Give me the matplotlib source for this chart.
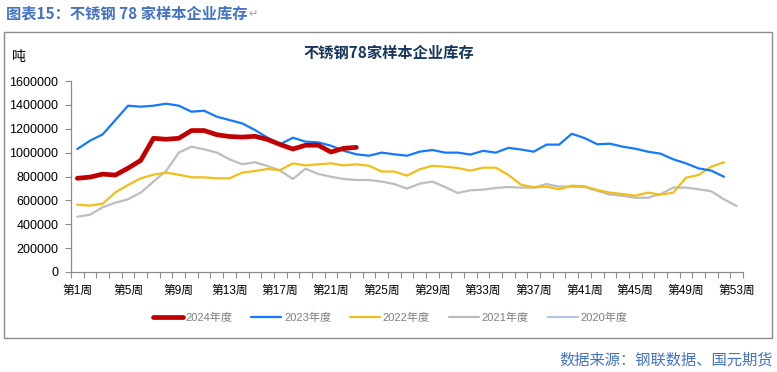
import numpy as np
import matplotlib
matplotlib.use('Agg')
import matplotlib.pyplot as plt
from matplotlib.patches import Rectangle

plt.rcParams['font.family'] = ['Liberation Sans', 'Noto Sans CJK SC', 'DejaVu Sans']

weeks = np.arange(1, 54)
tickWeeks = list(range(1, 54, 4))
tickLabels = [f'第{w}周' for w in tickWeeks]

inv2024 = [785000, 795000, 820000, 812000, 870000, 935000, 1120000, 1112000, 1120000,
           1185000, 1185000, 1150000, 1135000, 1130000, 1137000, 1110000, 1068000,
           1030000, 1062000, 1062000, 1005000, 1036000, 1044000]
inv2023 = [1030000, 1100000, 1153000, 1273000, 1393000, 1385000, 1393000, 1410000,
           1393000, 1343000, 1351000, 1301000, 1273000, 1245000, 1190000, 1125000,
           1070000, 1125000, 1092000, 1086000, 1058000, 1016000, 986000, 974000,
           1000000, 986000, 974000, 1008000, 1022000, 1000000, 1000000, 984000,
           1015000, 1000000, 1040000, 1026000, 1008000, 1067000, 1067000, 1158000,
           1122000, 1070000, 1075000, 1050000, 1033000, 1008000, 991000, 944000,
           910000, 868000, 849000, 798000]
inv2022 = [564000, 556000, 572000, 667000, 729000, 785000, 815000, 832000, 815000,
           793000, 793000, 785000, 785000, 832000, 846000, 863000, 854000, 910000,
           893000, 902000, 910000, 893000, 902000, 890000, 842000, 842000, 807000,
           860000, 890000, 882000, 871000, 849000, 874000, 874000, 813000, 731000,
           709000, 715000, 693000, 723000, 718000, 687000, 665000, 653000, 639000,
           665000, 648000, 665000, 790000, 813000, 882000, 919000]
inv2021 = [463000, 480000, 542000, 581000, 609000, 665000, 757000, 846000, 1000000,
           1050000, 1028000, 1000000, 944000, 903000, 919000, 888000, 849000, 779000,
           865000, 821000, 798000, 779000, 771000, 771000, 757000, 737000, 698000,
           740000, 757000, 712000, 662000, 684000, 690000, 704000, 712000, 707000,
           707000, 737000, 715000, 715000, 712000, 681000, 648000, 639000, 622000,
           622000, 653000, 707000, 707000, 693000, 676000, 609000, 553000]
inv2020 = []

series = [
    ('2024年度', inv2024, '#C00000', 3.4),
    ('2023年度', inv2023, '#1479FF', 1.6),
    ('2022年度', inv2022, '#F2BE1A', 1.6),
    ('2021年度', inv2021, '#BDBDBD', 1.6),
    ('2020年度', inv2020, '#B4C7E7', 1.6),
]


def main():
    W, H = 777, 372
    fig = plt.figure(figsize=(W/100, H/100), dpi=100)

    # ---- outer frame
    fig.patches.append(Rectangle((4/W, 1-338/H), 768/W, 306/H, transform=fig.transFigure,
                                 fill=False, edgecolor='#8C8C8C', linewidth=1.0))

    ax = fig.add_axes([71/W, 1-272/H, 672/W, 191/H])
    for name, vals, color, lw in series[::-1]:
        ax.plot(weeks[:len(vals)], vals, color=color, linewidth=lw, label=name,
                solid_joinstyle='round', solid_capstyle='round')

    ax.set_xlim(0.5, 53.5)
    ax.set_ylim(0, 1600000)
    ax.set_yticks(np.arange(0, 1600001, 200000))
    ax.set_yticklabels([f'{int(v)}' for v in np.arange(0, 1600001, 200000)])
    ax.set_xticks(tickWeeks)
    ax.set_xticklabels(tickLabels)
    ax.set_xticks(np.arange(0.5, 54, 1), minor=True)
    ax.tick_params(axis='x', which='major', length=0, pad=9, labelsize=8.5, colors='black')
    ax.tick_params(axis='x', which='minor', length=4, width=0.8, color='#8C8C8C')
    ax.tick_params(axis='y', length=4, width=0.8, color='#8C8C8C', labelsize=9, pad=5)
    for s in ['top', 'right']:
        ax.spines[s].set_visible(False)
    for s in ['left', 'bottom']:
        ax.spines[s].set_color('#8C8C8C')
        ax.spines[s].set_linewidth(0.9)

    handles, labels = ax.get_legend_handles_labels()
    fig.legend(handles[::-1], labels[::-1], loc='center', bbox_to_anchor=(390/W, 1-318/H),
               ncol=5, frameon=False, fontsize=8, labelcolor='#7F7F7F',
               handlelength=2.7, handletextpad=0.25, columnspacing=1.7)

    # ---- texts
    cap = fig.text(6/W, 1-13/H, '图表15：不锈钢 78 家样本企业库存', fontsize=11,
                   fontweight='bold', color='#4472C4', va='center', ha='left',
                   family=['Noto Sans CJK SC'])
    fig.text(19/W, 1-57/H, '吨', fontsize=10, va='center', ha='center',
             family=['Noto Sans CJK SC'])
    fig.text(389/W, 1-53/H, '不锈钢78家样本企业库存', fontsize=11, fontweight='bold',
             color='#17375E', va='center', ha='center', family=['Noto Sans CJK SC'])
    fig.text(773/W, 1-360/H, '数据来源：钢联数据、国元期货', fontsize=11,
             color='#4472C4', va='center', ha='right', family=['Noto Sans CJK SC'])

    fig.canvas.draw()
    bb = cap.get_window_extent()
    fig.text(bb.x1/W + 1/W, 1-14/H, '↵', fontsize=8, color='#A0A0A0', va='center',
             ha='left', family=['DejaVu Sans'])

    fig.savefig('out.png', dpi=100)


if __name__ == '__main__':
    main()
